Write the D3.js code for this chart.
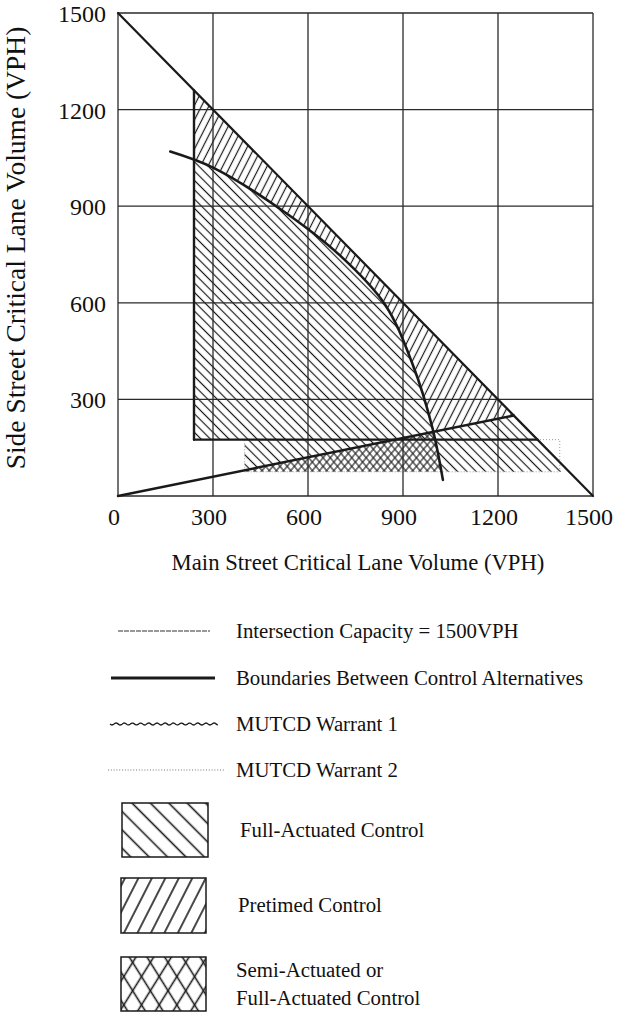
<!DOCTYPE html>
<html><head><meta charset="utf-8">
<script src="https://cdn.jsdelivr.net/npm/d3@7"></script>
<style>
body{margin:0;background:#fff;}
svg{display:block;}
text{font-family:"Liberation Serif","Times New Roman",serif;fill:#111;}
</style>
</head><body>
<svg id="c" width="629" height="1012"></svg>
<script>
// ---- data ----
const xTicks = [0, 300, 600, 900, 1200, 1500];
const yTicks = [300, 600, 900, 1200, 1500];
const xTickLabels = ["0", "300", "600", "900", "1200", "1500"];
const yTickLabels = ["300", "600", "900", "1200", "1500"];
const capacityLine = [[0, 1500], [1500, 0]];
const warrantVertical = [[240, 175], [240, 1260]];
const warrantHorizontal = [[240, 175], [1325, 175]];
const ratioLine = [[0, 0], [1250, 250]];
const boundaryCurve = [[165, 1070], [300, 1020], [510, 893], [700, 748], [843, 595], [930, 410], [992, 215], [1026, 50]];
const warrant2Band = [[400, 75], [1395, 75], [1395, 175], [400, 175]];
const fullActuatedMain = [[240, 175], [240, 1260], [1325, 175]];
const fullActuatedBand = [[400, 80], [400, 175], [875, 175]];
const pretimedRegion = [[240, 48], [240, 1260], [1250, 250]];
const rightBandRegion = [[375, 75], [1250, 250], [1400, 100], [1400, 75]];
const semiActuatedRegion = [[375, 75], [1250, 250], [1250, 75]];
const legendLines = ["Intersection Capacity = 1500VPH", "Boundaries Between Control Alternatives", "MUTCD Warrant 1", "MUTCD Warrant 2"];
const legendBoxes = [["Full-Actuated Control"], ["Pretimed Control"], ["Semi-Actuated or", "Full-Actuated Control"]];
const xTitle = "Main Street Critical Lane Volume (VPH)";
const yTitle = "Side Street Critical Lane Volume (VPH)";

// ---- setup ----
const svg = d3.select("#c");
const x = d3.scaleLinear().domain([0, 1500]).range([118, 593]);
const y = d3.scaleLinear().domain([0, 1500]).range([496, 13]);
const defs = svg.append("defs");
const ink = "#1a1a1a";

function pattern(id, spacing, angle, sw) {
  const p = defs.append("pattern").attr("id", id)
    .attr("patternUnits", "userSpaceOnUse")
    .attr("width", spacing).attr("height", spacing)
    .attr("patternTransform", `rotate(${angle})`);
  p.append("line").attr("x1", spacing / 2).attr("x2", spacing / 2)
    .attr("y1", -1).attr("y2", spacing + 1)
    .attr("stroke", ink).attr("stroke-width", sw);
}
pattern("fa", 6.6, -45, 1.2);
pattern("pt", 6.6, 27, 1.2);
pattern("semiA", 5.5, -40, 1.1);
pattern("semiB", 5.5, 40, 1.1);
pattern("faL", 13, -45, 1.6);
pattern("ptL", 12, 27, 1.6);
pattern("crA", 15, -32, 1.6);
pattern("crB", 15, 32, 1.6);

const line = d3.line().x(d => x(d[0])).y(d => y(d[1]));
const curveLine = d3.line().x(d => x(d[0])).y(d => y(d[1])).curve(d3.curveCatmullRom.alpha(0.5));

const cStart = boundaryCurve[0], cEnd = boundaryCurve[boundaryCurve.length - 1];
const curveD = curveLine(boundaryCurve);
defs.append("clipPath").attr("id", "leftOfCurve").append("path")
  .attr("d", curveD + `L${x(cEnd[0])},${y(-500)}L${x(-500)},${y(-500)}L${x(-500)},${y(cStart[1])}Z`);
defs.append("clipPath").attr("id", "rightOfCurve").append("path")
  .attr("d", curveD + `L${x(cEnd[0])},${y(-500)}L${x(2000)},${y(-500)}L${x(2000)},${y(2000)}L${x(cStart[0])},${y(2000)}Z`);

// ---- hatched regions ----
const regions = svg.append("g");
function region(poly, fill, clip) {
  const p = regions.append("path").attr("d", line(poly) + "Z").attr("fill", `url(#${fill})`);
  if (clip) p.attr("clip-path", `url(#${clip})`);
}
region(fullActuatedMain, "fa", "leftOfCurve");
region(fullActuatedBand, "fa");
region(pretimedRegion, "pt", "rightOfCurve");
region(rightBandRegion, "fa", "rightOfCurve");
region(semiActuatedRegion, "semiA", "leftOfCurve");
region(semiActuatedRegion, "semiB", "leftOfCurve");

// warrant 2 band outline (faint dotted)
svg.append("path").attr("d", line(warrant2Band) + "Z").attr("fill", "none")
  .attr("stroke", "#999").attr("stroke-width", 1).attr("stroke-dasharray", "1,2");

// ---- grid ----
const grid = svg.append("g").attr("stroke", "#2a2a2a").attr("stroke-width", 1.3);
grid.selectAll("line.v").data(xTicks).join("line")
  .attr("x1", d => x(d)).attr("x2", d => x(d)).attr("y1", y(0)).attr("y2", y(1500));
grid.selectAll("line.h").data([0].concat(yTicks)).join("line").attr("class", "h")
  .attr("y1", d => y(d)).attr("y2", d => y(d)).attr("x1", x(0)).attr("x2", x(1500));

// ---- boundary lines ----
const bl = svg.append("g").attr("fill", "none").attr("stroke", ink).attr("stroke-linecap", "round");
bl.append("path").attr("d", line(capacityLine)).attr("stroke-width", 2.2);
bl.append("path").attr("d", line(warrantVertical)).attr("stroke-width", 2.4);
bl.append("path").attr("d", line(warrantHorizontal)).attr("stroke-width", 2.2);
bl.append("path").attr("d", line(ratioLine)).attr("stroke-width", 2.4);
bl.append("path").attr("d", curveD).attr("stroke-width", 2.6);

// ---- tick labels ----
svg.append("g").selectAll("text").data(xTicks).join("text")
  .attr("x", d => x(d) - 4).attr("y", 525).attr("text-anchor", "middle")
  .style("font-size", "24px").text((d, i) => xTickLabels[i]);
svg.append("g").selectAll("text").data(yTicks).join("text")
  .attr("x", 106).attr("y", d => y(d) + 9).attr("text-anchor", "end")
  .style("font-size", "24px").text((d, i) => yTickLabels[i]);

// ---- axis titles ----
svg.append("text").attr("x", 358).attr("y", 570).attr("text-anchor", "middle")
  .style("font-size", "22.7px").text(xTitle);
svg.append("text").attr("transform", "translate(25,248) rotate(-90)").attr("text-anchor", "middle")
  .style("font-size", "27.5px").text(yTitle);

// ---- legend ----
const lg = svg.append("g");
const rowY = [631, 678, 724, 770];
const fs = "20.8px";
// 1 thin capacity line
lg.append("line").attr("x1", 118).attr("x2", 210).attr("y1", rowY[0]).attr("y2", rowY[0])
  .attr("stroke", "#333").attr("stroke-width", 1).attr("stroke-dasharray", "5,1");
// 2 thick line
lg.append("line").attr("x1", 111).attr("x2", 215).attr("y1", rowY[1]).attr("y2", rowY[1])
  .attr("stroke", ink).attr("stroke-width", 3);
// 3 wavy line
const wave = d3.range(110, 219, 1).map(v => [v, rowY[2] + Math.sin((v - 110) / 1.3) * 1]);
lg.append("path").attr("d", d3.line()(wave)).attr("fill", "none").attr("stroke", ink).attr("stroke-width", 1.3);
// 4 dotted line
lg.append("line").attr("x1", 108).attr("x2", 225).attr("y1", rowY[3]).attr("y2", rowY[3])
  .attr("stroke", "#777").attr("stroke-width", 1.2).attr("stroke-dasharray", "1,1.8");
lg.selectAll("text.l").data(legendLines).join("text").attr("class", "l")
  .attr("x", 236).attr("y", (d, i) => rowY[i] + 7).style("font-size", fs).text(d => d);

// boxes
const boxes = [
  {x: 122, y: 803, w: 86, h: 54, fills: ["faL"], tx: 240, ty: [837]},
  {x: 121, y: 878, w: 85, h: 55, fills: ["ptL"], tx: 238, ty: [912]},
  {x: 121, y: 957, w: 85, h: 54, fills: ["crA", "crB"], tx: 236, ty: [977, 1005]}
];
boxes.forEach((b, i) => {
  b.fills.forEach(f => lg.append("rect").attr("x", b.x).attr("y", b.y).attr("width", b.w).attr("height", b.h)
    .attr("fill", `url(#${f})`));
  lg.append("rect").attr("x", b.x).attr("y", b.y).attr("width", b.w).attr("height", b.h)
    .attr("fill", "none").attr("stroke", ink).attr("stroke-width", 1.5);
  legendBoxes[i].forEach((t, j) => lg.append("text").attr("x", b.tx).attr("y", b.ty[j])
    .style("font-size", fs).text(t));
});
</script>
</body></html>
